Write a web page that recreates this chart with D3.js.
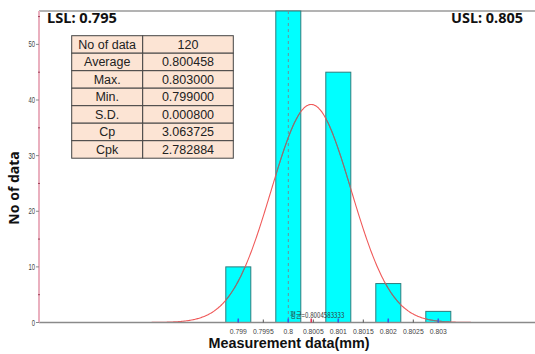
<!DOCTYPE html>
<html>
<head>
<meta charset="utf-8">
<script src="https://cdn.jsdelivr.net/npm/d3@7"></script>
<style>
  html, body { margin: 0; padding: 0; background: #fff; }
  svg { display: block; }
</style>
</head>
<body>
<svg id="chart" width="535" height="354"></svg>
<script>
// Histogram bins (bin centre, count)
const binCenters = [0.799, 0.800, 0.801, 0.802, 0.803];
const binCounts  = [10, 56, 45, 7, 2];
const binWidth = 0.0005;

// Specification limits
const lsl = 0.795;
const usl = 0.805;

// Summary statistics table
const statLabels = ["No of data", "Average", "Max.", "Min.", "S.D.", "Cp", "Cpk"];
const statValues = ["120", "0.800458", "0.803000", "0.799000", "0.000800", "3.063725", "2.782884"];

// Fitted normal curve parameters
const meanValue = 0.8004583333;
const sdValue = 0.0008;
const curvePeak = 39.2;

// Axis ticks
const xTickValues = [0.799, 0.7995, 0.8, 0.8005, 0.801, 0.8015, 0.802, 0.8025, 0.803];
const xTickLabels = ["0.799", "0.7995", "0.8", "0.8005", "0.801", "0.8015", "0.802", "0.8025", "0.803"];
const yTickValues = [0, 10, 20, 30, 40, 50];
const yMinorTicks = [5, 15, 25, 35, 45, 55];
const yMax = 56;

const svg = d3.select("#chart");
const plot = { left: 39, right: 535, top: 11, bottom: 322.5 };

const x = d3.scaleLinear().domain([lsl, usl]).range([38.3, 538.3]);
const y = d3.scaleLinear().domain([0, yMax]).range([plot.bottom, plot.top]);

const bins = binCenters.map((c, i) => ({ c, n: binCounts[i] }));
const barX = d => x(d.c - binWidth / 2);
const barW = d => x(d.c + binWidth / 2) - x(d.c - binWidth / 2);
const barY = d => y(Math.min(d.n, yMax));
const barH = d => y(0) - y(Math.min(d.n, yMax));

// Top frame line
svg.append("line")
  .attr("x1", plot.left).attr("x2", plot.right)
  .attr("y1", plot.top).attr("y2", plot.top)
  .attr("stroke", "#9a9a9a").attr("stroke-width", 1.5);

// Bars
svg.append("g").selectAll("rect")
  .data(bins)
  .join("rect")
  .attr("x", barX).attr("width", barW)
  .attr("y", barY).attr("height", barH)
  .attr("fill", "#00ffff")
  .attr("stroke", "#2f7c7c")
  .attr("stroke-width", 1);

// Clip region covering the bars (curve is drawn grey where it crosses them)
const clip = svg.append("defs").append("clipPath").attr("id", "barClip");
clip.selectAll("rect")
  .data(bins)
  .join("rect")
  .attr("x", barX).attr("width", barW)
  .attr("y", barY).attr("height", barH);

// Dashed marker at the centre of the bin holding the mean
const meanBin = Math.round(meanValue / 0.001) * 0.001;
svg.append("line")
  .attr("x1", x(meanBin)).attr("x2", x(meanBin))
  .attr("y1", plot.top).attr("y2", plot.bottom)
  .attr("stroke", "#6d8f99")
  .attr("stroke-width", 1)
  .attr("stroke-dasharray", "3,3");

// Normal curve
const curvePts = d3.range(-4, 4.0001, 0.02).map(z => {
  const v = meanValue + z * sdValue;
  return [v, curvePeak * Math.exp(-0.5 * z * z)];
});
const curveLine = d3.line().x(d => x(d[0])).y(d => y(d[1])).curve(d3.curveMonotoneX);
svg.append("path")
  .datum(curvePts)
  .attr("d", curveLine)
  .attr("fill", "none")
  .attr("stroke", "#f05a5a")
  .attr("stroke-width", 1.1);
svg.append("path")
  .datum(curvePts)
  .attr("d", curveLine)
  .attr("clip-path", "url(#barClip)")
  .attr("fill", "none")
  .attr("stroke", "#6e7f80")
  .attr("stroke-width", 1.1);

// X axis baseline
svg.append("line")
  .attr("x1", plot.left).attr("x2", plot.right)
  .attr("y1", plot.bottom).attr("y2", plot.bottom)
  .attr("stroke", "#8a8a8a").attr("stroke-width", 1.5);

// X ticks (pointing inward) and small labels
const xt = svg.append("g");
xt.selectAll("line")
  .data(xTickValues)
  .join("line")
  .attr("x1", d => x(d)).attr("x2", d => x(d))
  .attr("y1", plot.bottom - 3).attr("y2", plot.bottom)
  .attr("stroke", "#555").attr("stroke-width", 1);
xt.selectAll("text")
  .data(xTickValues)
  .join("text")
  .attr("x", d => x(d))
  .attr("y", plot.bottom + 11.5)
  .attr("text-anchor", "middle")
  .attr("font-family", "Liberation Sans, Arial, sans-serif")
  .attr("font-size", 6.8)
  .attr("fill", "#444")
  .text((d, i) => xTickLabels[i]);

// Blue markers at bin centres, red marker at the mean
svg.append("g").selectAll("line")
  .data(binCenters)
  .join("line")
  .attr("x1", d => x(d)).attr("x2", d => x(d))
  .attr("y1", plot.bottom - 4).attr("y2", plot.bottom)
  .attr("stroke", "#3a5ae8").attr("stroke-width", 1.5);
svg.append("line")
  .attr("x1", x(meanValue)).attr("x2", x(meanValue))
  .attr("y1", plot.bottom - 4).attr("y2", plot.bottom)
  .attr("stroke", "#e03050").attr("stroke-width", 1.5);

// Mean annotation
const meanText = "평균=" + meanValue.toFixed(10);
svg.append("text")
  .attr("x", x(meanBin) + 2)
  .attr("y", plot.bottom - 5)
  .attr("font-family", "Noto Sans CJK KR, sans-serif")
  .attr("font-size", 8)
  .attr("fill", "#333")
  .attr("textLength", 54)
  .attr("lengthAdjust", "spacingAndGlyphs")
  .text(meanText);

// Y axis line
svg.append("line")
  .attr("x1", plot.left).attr("x2", plot.left)
  .attr("y1", plot.top).attr("y2", plot.bottom)
  .attr("stroke", "#eab0bf").attr("stroke-width", 2);

// Y ticks
const yt = svg.append("g");
yt.selectAll("line.major")
  .data(yTickValues)
  .join("line")
  .attr("class", "major")
  .attr("x1", plot.left - 3).attr("x2", plot.left)
  .attr("y1", d => y(d)).attr("y2", d => y(d))
  .attr("stroke", "#888").attr("stroke-width", 1);
yt.selectAll("line.minor")
  .data(yMinorTicks)
  .join("line")
  .attr("class", "minor")
  .attr("x1", plot.left - 1).attr("x2", plot.left + 1)
  .attr("y1", d => y(d)).attr("y2", d => y(d))
  .attr("stroke", "#a04058").attr("stroke-width", 1);
yt.selectAll("text")
  .data(yTickValues)
  .join("text")
  .attr("x", 35)
  .attr("y", d => y(d) + 3)
  .attr("text-anchor", "end")
  .attr("font-family", "Liberation Sans, Arial, sans-serif")
  .attr("font-size", 9)
  .attr("fill", "#444")
  .attr("textLength", d => String(d).length * 3.3)
  .attr("lengthAdjust", "spacingAndGlyphs")
  .text(d => d);

// Spec limit labels
svg.append("text")
  .attr("x", 47).attr("y", 23)
  .attr("font-family", "Noto Sans, sans-serif")
  .attr("font-weight", "bold")
  .attr("font-size", 13.5)
  .attr("fill", "#111")
  .attr("textLength", 70)
  .attr("lengthAdjust", "spacingAndGlyphs")
  .text("LSL: " + lsl);
svg.append("text")
  .attr("x", 523).attr("y", 23)
  .attr("text-anchor", "end")
  .attr("font-family", "Noto Sans, sans-serif")
  .attr("font-weight", "bold")
  .attr("font-size", 13.5)
  .attr("fill", "#111")
  .attr("textLength", 72)
  .attr("lengthAdjust", "spacingAndGlyphs")
  .text("USL: " + usl);

// Axis titles
svg.append("text")
  .attr("transform", "translate(19,188) rotate(-90)")
  .attr("text-anchor", "middle")
  .attr("font-family", "Noto Sans, sans-serif")
  .attr("font-weight", "bold")
  .attr("font-size", 14)
  .attr("fill", "#111")
  .text("No of data");
svg.append("text")
  .attr("x", 289).attr("y", 347.5)
  .attr("text-anchor", "middle")
  .attr("font-family", "Liberation Sans, Arial, sans-serif")
  .attr("font-weight", "bold")
  .attr("font-size", 14.5)
  .attr("fill", "#111")
  .attr("textLength", 161)
  .attr("lengthAdjust", "spacingAndGlyphs")
  .text("Measurement data(mm)");

// Statistics table
const tbl = { x0: 71.7, x1: 142.7, x2: 233.3, y0: 35.7, rowH: 17.5 };
const tg = svg.append("g");
const rows = tg.selectAll("g")
  .data(statLabels.map((l, i) => ({ l, v: statValues[i], i })))
  .join("g");
rows.append("rect")
  .attr("x", tbl.x0).attr("y", d => tbl.y0 + d.i * tbl.rowH)
  .attr("width", tbl.x1 - tbl.x0).attr("height", tbl.rowH)
  .attr("fill", "#fce4d4").attr("stroke", "#444").attr("stroke-width", 1);
rows.append("rect")
  .attr("x", tbl.x1).attr("y", d => tbl.y0 + d.i * tbl.rowH)
  .attr("width", tbl.x2 - tbl.x1).attr("height", tbl.rowH)
  .attr("fill", "#fce4d4").attr("stroke", "#444").attr("stroke-width", 1);
rows.append("text")
  .attr("x", (tbl.x0 + tbl.x1) / 2).attr("y", d => tbl.y0 + d.i * tbl.rowH + 13)
  .attr("text-anchor", "middle")
  .attr("font-family", "Liberation Sans, Arial, sans-serif")
  .attr("font-size", 12.5)
  .attr("fill", "#222")
  .text(d => d.l);
rows.append("text")
  .attr("x", (tbl.x1 + tbl.x2) / 2).attr("y", d => tbl.y0 + d.i * tbl.rowH + 13)
  .attr("text-anchor", "middle")
  .attr("font-family", "Liberation Sans, Arial, sans-serif")
  .attr("font-size", 12.5)
  .attr("fill", "#222")
  .text(d => d.v);
</script>
</body>
</html>
